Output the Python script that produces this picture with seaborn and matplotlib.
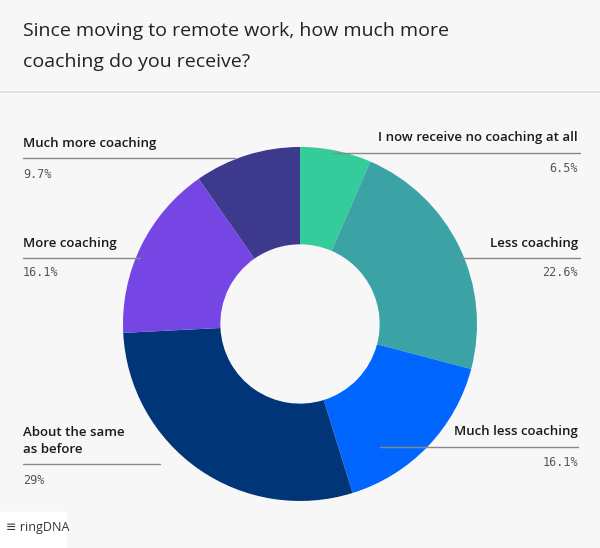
import matplotlib
matplotlib.use('Agg')
import matplotlib.pyplot as plt
import seaborn as sns

# Dados
categorias = ['I now receive no coaching at all', 'Less coaching', 'Much less coaching',
              'About the same\nas before', 'More coaching', 'Much more coaching']
valores = [6.5, 22.6, 16.1, 29, 16.1, 9.7]
rotulos_pct = ['6.5%', '22.6%', '16.1%', '29%', '16.1%', '9.7%']
cores = ['#34cc9a', '#3ba3a5', '#0066ff', '#003677', '#7646e4', '#3d3a8e']

sns.set_theme(style='white')
plt.rcParams['font.family'] = ['Open Sans', 'DejaVu Sans']

bg = '#f7f7f7'
fig = plt.figure(figsize=(6, 5.48), dpi=100, facecolor=bg)

# donut
ax = fig.add_axes([0.205, 0.0858, 0.59, 0.646])
ax.pie(valores, colors=cores, startangle=90, counterclock=False, radius=1,
       wedgeprops=dict(width=0.55, linewidth=0))
ax.set_xlim(-1, 1)
ax.set_ylim(-1, 1)
ax.set_aspect('equal')
ax.axis('off')

# camada de texto em pixels (por cima do donut)
ov = fig.add_axes([0, 0, 1, 1])
ov.set_xlim(0, 600)
ov.set_ylim(548, 0)
ov.axis('off')
ov.patch.set_alpha(0)

ov.text(23, 31, 'Since moving to remote work, how much more', fontsize=14,
        color='#222222', va='center', ha='left')
ov.text(23, 62, 'coaching do you receive?', fontsize=14,
        color='#222222', va='center', ha='left')
ov.plot([0, 600], [92, 92], color='#dddddd', lw=1.2)

# rótulos: (y do texto, y da linha, y do pct, x inicio linha, x fim linha, lado)
pos = [
    (138, 153, 168, 332, 580, 'r'),
    (243, 258, 273, 460, 580, 'r'),
    (432, 447, 462, 380, 578, 'r'),
    (432, 464, 480, 23, 160, 'l'),
    (243, 258, 273, 23, 140, 'l'),
    (143, 158, 174, 23, 235, 'l'),
]
for cat, pct, (yt, yl, yp, x0, x1, lado) in zip(categorias, rotulos_pct, pos):
    if lado == 'l':
        xt, ha = 23, 'left'
    else:
        xt, ha = 578, 'right'
    ov.text(xt, yt + (9 if '\n' in cat else 0), cat, fontsize=9.5, fontweight='semibold',
            color='#1a1a1a', ha=ha, va='center', linespacing=1.4)
    ov.plot([x0, x1], [yl, yl], color='#888888', lw=1, zorder=5)
    ov.text(xt, yp, pct, fontsize=8.5, color='#555555', ha=ha, va='center',
            family='DejaVu Sans Mono')

# logo
ov.add_patch(plt.Rectangle((0, 512), 66, 36, color='white', zorder=1))
ov.text(6, 528, '\u2261 ringDNA', fontsize=9, color='#333333', va='center', ha='left', zorder=2)

fig.savefig('out.png', dpi=100, facecolor=bg)
